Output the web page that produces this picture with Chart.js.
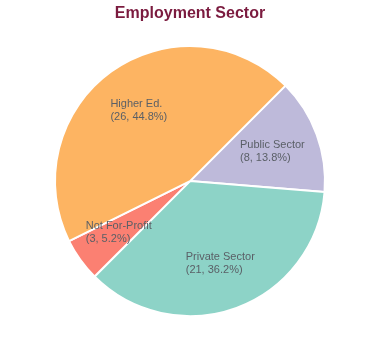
<!DOCTYPE html>
<html>
<head>
<meta charset="utf-8">
<script src="https://cdn.jsdelivr.net/npm/chart.js@4/dist/chart.umd.min.js"></script>
<style>
html,body{margin:0;padding:0;background:#fff;}
#wrap{width:380px;height:360px;}
</style>
</head>
<body>
<div id="wrap"><canvas id="c" width="380" height="360"></canvas></div>
<script>
const categories = ["Public Sector", "Private Sector", "Not For-Profit", "Higher Ed."];
const counts = [8, 21, 3, 26];
const colors = ["#BEBADA", "#8DD3C7", "#FB8072", "#FDB462"];
const titleText = "Employment Sector";

const total = counts.reduce((a, b) => a + b, 0);

const sliceLabels = {
  id: 'sliceLabels',
  afterDatasetsDraw(chart) {
    const ctx = chart.ctx;
    const meta = chart.getDatasetMeta(0);
    ctx.save();
    ctx.font = '11px "Liberation Sans", Arial, sans-serif';
    ctx.fillStyle = '#5a5f66';
    ctx.textBaseline = 'middle';
    ctx.textAlign = 'left';
    meta.data.forEach((arc, i) => {
      const p = arc.getProps(['x', 'y', 'startAngle', 'endAngle', 'outerRadius'], true);
      const mid = (p.startAngle + p.endAngle) / 2;
      const r = p.outerRadius * 0.65;
      const cx = p.x + Math.cos(mid) * r;
      const cy = p.y + Math.sin(mid) * r;
      const pct = (counts[i] / total * 100).toFixed(1);
      const l1 = categories[i];
      const l2 = '(' + counts[i] + ', ' + pct + '%)';
      const w = Math.max(ctx.measureText(l1).width, ctx.measureText(l2).width);
      const x0 = cx - w / 2;
      ctx.fillText(l1, x0, cy - 6);
      ctx.fillText(l2, x0, cy + 7);
    });
    ctx.restore();
  }
};

new Chart(document.getElementById('c'), {
  type: 'pie',
  data: {
    labels: categories,
    datasets: [{
      data: counts,
      backgroundColor: colors,
      borderColor: '#ffffff',
      borderWidth: 2
    }]
  },
  options: {
    responsive: false,
    animation: false,
    rotation: 45,
    radius: 135,
    layout: { padding: { top: 0, bottom: 45, left: 56, right: 56 } },
    plugins: {
      legend: { display: false },
      tooltip: { enabled: false },
      title: {
        display: true,
        text: titleText,
        color: '#7b1b3f',
        font: { family: '"Liberation Sans", Arial, sans-serif', size: 16, weight: 'bold' },
        padding: { top: 4, bottom: 24 }
      }
    }
  },
  plugins: [sliceLabels]
});
</script>
</body>
</html>
